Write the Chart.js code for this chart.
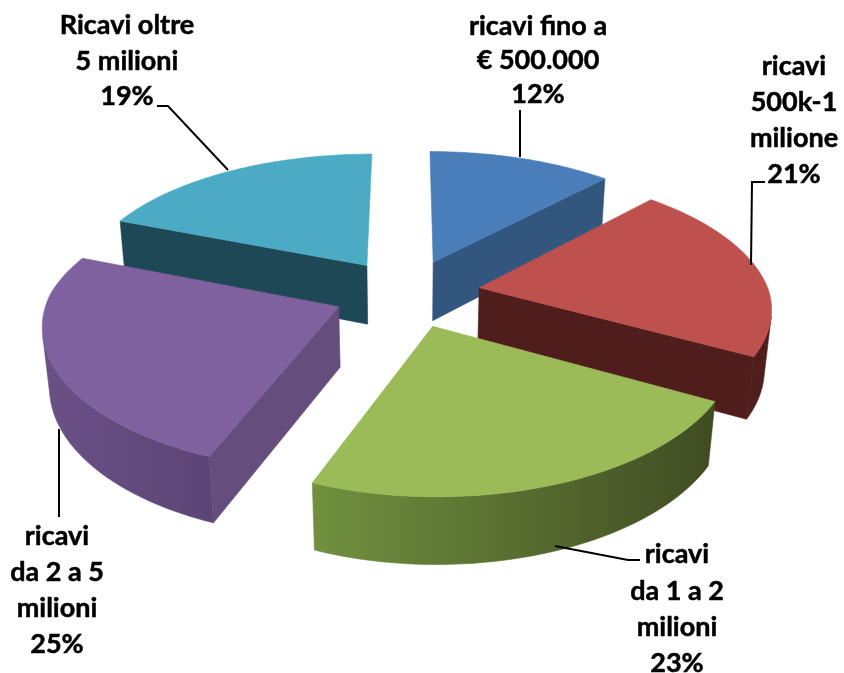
<!DOCTYPE html>
<html>
<head>
<meta charset="utf-8">
<style>html,body{margin:0;padding:0;background:#fff}canvas{display:block}</style>
<script src="https://cdn.jsdelivr.net/npm/chart.js@4"></script>
</head>
<body>
<canvas id="c" width="844" height="673"></canvas>
<script>
// ---- data ----
const categories = ["ricavi fino a € 500.000","ricavi 500k-1 milione","ricavi da 1 a 2 milioni","ricavi da 2 a 5 milioni","Ricavi oltre 5 milioni"];
const values = [12, 21, 23, 25, 19];
const labelLines = [
  ["ricavi fino a","€ 500.000","12%"],
  ["ricavi","500k-1","milione","21%"],
  ["ricavi","da 1 a 2","milioni","23%"],
  ["ricavi","da 2 a 5","milioni","25%"],
  ["Ricavi oltre","5 milioni","19%"]
];
// ---- style ----
const topColors = ["#4a7ebb","#be504d","#9bbb59","#7f619f","#4babc5"];
const wallColors = [
  ["#33567f","#33567f"],
  ["#4f1e1c","#4f1e1c"],
  ["#71903f","#3f4c22"],
  ["#6b5186","#5c4476"],
  ["#1f4856","#1f4856"]
];
const radialColors = ["#33567f","#4f1e1c","#5a7232","#654d7e","#1f4856"];
const labelCenters = [538,794,677,57,127];
const labelBaselines = [[35,69,103],[75,111,147,183],[563,600,636,672],[545,581,617,653],[34,70,105]];
const leaders = [
  [[520,110],[520,157]],
  [[765,182],[752,182],[751,265]],
  [[640,560],[628,560],[555,546]],
  [[59,429],[59,517]],
  [[157,106],[168,106],[228,170]]
];
const view = {cx:407, cy:293, k:0.0005, kFrontLeft:0.0004, kFrontRight:0.00045, s:0.4655, t:61, m:0.02, R:290, d:73.5};

function project(X,Y,Z){
  const wy = 1 - view.k*Y + view.m*Z;
  const kx = Y>0 ? (X<0?view.kFrontLeft:view.kFrontRight) : view.k;
  const wx = 1 - kx*Y + view.m*Z;
  return [view.cx + X/wx, view.cy + (view.s*Y + view.t*Z)/wy];
}
function poly(ctx,pts,fill){
  ctx.beginPath();
  pts.forEach((p,i)=> i?ctx.lineTo(p[0],p[1]):ctx.moveTo(p[0],p[1]));
  ctx.closePath();
  ctx.fillStyle = fill; ctx.fill();
  ctx.strokeStyle = fill; ctx.lineWidth = 0.6; ctx.stroke();
}
function cross(o,a,b){ return (a[0]-o[0])*(b[1]-o[1])-(a[1]-o[1])*(b[0]-o[0]); }
function facing(a,b,down,inner){
  // is the face hanging below edge a-b turned towards the viewer?
  const len=Math.hypot(b[0]-a[0],b[1]-a[1])*Math.hypot(down[0]-a[0],down[1]-a[1])||1;
  const c=cross(a,b,down)/len;
  return Math.abs(c)>0.1 && c*cross(a,b,inner)<0;
}
const pie3d = {
  id:"pie3d",
  beforeDatasetDraw(chart){
    const ctx = chart.ctx;
    const arcs = chart.getDatasetMeta(0).data.map((a,i)=>{
      const mid=(a.startAngle+a.endAngle)/2;
      return {i,a0:a.startAngle,a1:a.endAngle,ax:view.d*Math.cos(mid),ay:view.d*Math.sin(mid)};
    }).sort((p,q)=>p.ay-q.ay);
    arcs.forEach(s=>{
      const rim=[];
      const n=72;
      for(let j=0;j<=n;j++){
        const ang=s.a0+(s.a1-s.a0)*j/n;
        rim.push([s.ax+view.R*Math.cos(ang), s.ay+view.R*Math.sin(ang)]);
      }
      const apexTop=project(s.ax,s.ay,0), apexBot=project(s.ax,s.ay,1);
      const topRim=rim.map(r=>project(r[0],r[1],0));
      const botRim=rim.map(r=>project(r[0],r[1],1));
      const xs=[...topRim,...botRim].map(p=>p[0]);
      const g=ctx.createLinearGradient(Math.min(...xs),0,Math.max(...xs),0);
      g.addColorStop(0,wallColors[s.i][0]);
      g.addColorStop(1,wallColors[s.i][1]);
      // outer wall: the run of rim segments turned towards the viewer
      const run=[];
      for(let j=0;j<n;j++){
        const a=topRim[j], b=topRim[j+1];
        if(cross(a,b,botRim[j])*cross(a,b,apexTop)<0){
          if(!run.length) run.push(j);
          run.push(j+1);
        }
      }
      if(run.length) poly(ctx,[...run.map(j=>topRim[j]),...run.slice().reverse().map(j=>botRim[j])],g);
      // cut faces
      [[0,n],[n,0]].forEach(([e,other])=>{
        const pe=topRim[e];
        if(facing(apexTop,pe,apexBot,topRim[other])) poly(ctx,[apexTop,pe,botRim[e],apexBot],radialColors[s.i]);
      });
      poly(ctx,[apexTop,...topRim],topColors[s.i]);
    });
    return false;
  },
  afterDraw(chart){
    const ctx=chart.ctx;
    ctx.save();
    ctx.strokeStyle="#000"; ctx.lineWidth=2;
    leaders.forEach(l=>{
      ctx.beginPath();
      l.forEach((p,i)=> i?ctx.lineTo(p[0],p[1]):ctx.moveTo(p[0],p[1]));
      ctx.stroke();
    });
    ctx.fillStyle="#000";
    ctx.strokeStyle="#000"; ctx.lineWidth=0.5;
    ctx.font="bold 27px Lato";
    ctx.textAlign="center";
    ctx.textBaseline="alphabetic";
    labelLines.forEach((lines,i)=>{
      lines.forEach((t,j)=>{
        ctx.fillText(t,labelCenters[i],labelBaselines[i][j]);
        ctx.strokeText(t,labelCenters[i],labelBaselines[i][j]);
      });
    });
    ctx.restore();
  }
};
new Chart(document.getElementById("c"),{
  type:"pie",
  data:{labels:categories,datasets:[{data:values,backgroundColor:topColors,offset:40,borderWidth:0}]},
  options:{
    responsive:false,
    animation:false,
    plugins:{legend:{display:false},tooltip:{enabled:false}}
  },
  plugins:[pie3d]
});
</script>
</body>
</html>
